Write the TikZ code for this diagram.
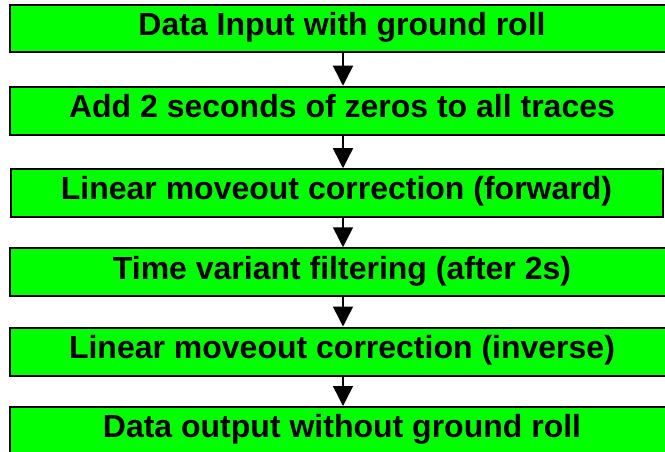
\documentclass[tikz,border=0pt]{standalone}
\usepackage{fontspec}
\setmainfont{Liberation Sans}
\usetikzlibrary{positioning, arrows.meta}
\definecolor{boxgreen}{RGB}{0,255,0}

\begin{document}
\begin{tikzpicture}[x=1pt, y=-1pt,
    stepbox/.style={draw=black, line width=2pt, fill=boxgreen, minimum width=664pt,
      minimum height=48pt, inner sep=0pt, text height=23pt, text depth=9.5pt,
      font=\fontsize{32}{38}\selectfont\bfseries},
    flow/.style={-{Triangle[width=20pt,length=20pt]}, line width=1.5pt}]
  \useasboundingbox (0,0) rectangle (665,452);
  \coordinate (spine) at (343,0);
  \node[stepbox, minimum height=47pt] (input) at (342,28.5) {Data Input with ground roll};
  \node[stepbox] (zeros) at (342,110.75) {Add 2 seconds of zeros to all traces};
  \node[stepbox, minimum width=652pt] (lmofwd) at (336.5,193.25) {Linear moveout correction (forward)};
  \node[stepbox] (tvf) at (342,272.25) {Time variant filtering (after 2s)};
  \node[stepbox] (lmoinv) at (342,351.5) {Linear moveout correction (inverse)};
  \node[stepbox] (output) at (342,431) {Data output without ground roll};
  \draw[flow] (input.south -| spine) -- (zeros.north -| spine);
  \draw[flow] (zeros.south -| spine) -- (lmofwd.north -| spine);
  \draw[flow] (lmofwd.south -| spine) -- (tvf.north -| spine);
  \draw[flow] (tvf.south -| spine) -- (lmoinv.north -| spine);
  \draw[flow] (lmoinv.south -| spine) -- (output.north -| spine);
\end{tikzpicture}
\end{document}
